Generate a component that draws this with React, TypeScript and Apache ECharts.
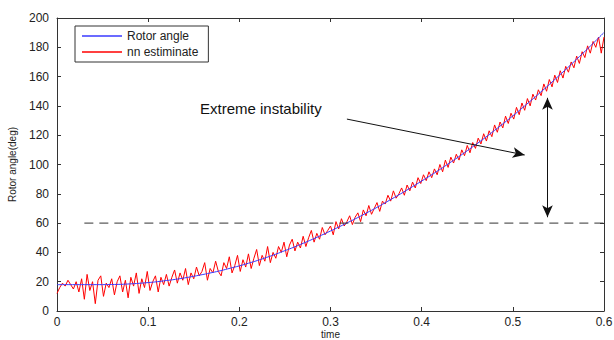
import React, { useEffect, useRef } from "react";
import * as echarts from "echarts";

// time grids
const blueTimes = [
  0, 0.01, 0.02, 0.03, 0.04, 0.05, 0.06, 0.07, 0.08, 0.09,
  0.1, 0.11, 0.12, 0.13, 0.14, 0.15, 0.16, 0.17, 0.18, 0.19,
  0.2, 0.21, 0.22, 0.23, 0.24, 0.25, 0.26, 0.27, 0.28, 0.29,
  0.3, 0.31, 0.32, 0.33, 0.34, 0.35, 0.36, 0.37, 0.38, 0.39,
  0.4, 0.41, 0.42, 0.43, 0.44, 0.45, 0.46, 0.47, 0.48, 0.49,
  0.5, 0.51, 0.52, 0.53, 0.54, 0.55, 0.56, 0.57, 0.58, 0.59, 0.6,
];
const rotorAngle = [
  18, 18, 18, 18, 18, 18, 18.1, 18.2, 18.5, 18.9,
  19.4, 20.0, 20.8, 21.6, 22.6, 23.7, 24.9, 26.2, 27.6, 29.2,
  30.8, 32.6, 34.5, 36.6, 38.8, 41.2, 43.6, 46.2, 48.9, 51.7,
  54.6, 57.6, 60.7, 63.8, 67.1, 70.4, 73.9, 77.5, 81.1, 84.9,
  88.7, 92.6, 96.6, 100.8, 105.0, 109.4, 113.9, 118.5, 123.3, 128.2,
  133.2, 138.4, 143.7, 149.1, 154.6, 160.3, 166.0, 171.9, 177.8, 183.9, 190.1,
];
const nnStep = 0.003;
const nnEstimate = [
  12, 16, 19, 17, 21, 18, 15, 20, 13, 22,
  8, 25, 14, 20, 5, 21, 24, 10, 19, 16,
  22, 11, 20, 24, 13, 21, 9, 23, 17, 26,
  12, 22, 16, 27, 14, 20, 24, 13, 23, 18,
  25, 17, 23, 28, 19, 26, 21, 29, 18, 26,
  22, 30, 24, 27, 33, 21, 29, 26, 34, 27,
  24, 33, 29, 37, 26, 31, 38, 27, 35, 30,
  39, 29, 36, 42, 31, 38, 34, 44, 33, 40,
  36, 44, 40, 47, 37, 45, 49, 41, 47, 43,
  51, 44, 50, 55, 47, 53, 49, 57, 52, 55,
  58, 52, 61, 56, 63, 58, 61, 65, 59, 64,
  67, 61, 69, 65, 72, 66, 70, 74, 68, 75,
  73, 79, 75, 82, 77, 80, 84, 79, 86, 82,
  88, 84, 91, 87, 93, 89, 95, 91, 97, 93,
  100, 95, 103, 98, 105, 101, 107, 103, 110, 106,
  113, 108, 115, 111, 118, 114, 121, 116, 123, 119,
  127, 122, 129, 125, 133, 128, 135, 131, 139, 134,
  142, 137, 145, 140, 148, 144, 151, 147, 155, 150,
  158, 153, 161, 156, 164, 159, 167, 163, 170, 166,
  174, 169, 177, 173, 181, 176, 184, 180, 187, 176,
  187,
];
const thresholdLine = [
  [0.03, 60],
  [0.6, 60],
];
const instabilityArrow = [
  [0.318, 131],
  [0.513, 106.5],
];
const spanArrow = [
  [0.538, 145.5],
  [0.538, 64],
];
const xTicks = [0, 0.1, 0.2, 0.3, 0.4, 0.5, 0.6];
const yTicks = [0, 20, 40, 60, 80, 100, 120, 140, 160, 180, 200];

const FONT = "Liberation Sans, Arial, sans-serif";

export default function App() {
  const ref = useRef<HTMLDivElement>(null);
  useEffect(() => {
    if (!ref.current) return;
    const chart = echarts.init(ref.current, null, { renderer: "svg" });
    const blueData = blueTimes.map((t, i) => [t, rotorAngle[i]]);
    const redData = nnEstimate.map((v, i) => [+(i * nnStep).toFixed(4), v]);
    const axisColor = "#333";
    const xBase = {
      type: "value" as const,
      min: xTicks[0],
      max: xTicks[xTicks.length - 1],
      interval: 0.1,
      axisLine: { show: true, onZero: false, lineStyle: { color: axisColor, width: 1 } },
      axisTick: { show: true, inside: true, length: 4, lineStyle: { color: axisColor } },
      splitLine: { show: false },
    };
    const yBase = {
      type: "value" as const,
      min: yTicks[0],
      max: yTicks[yTicks.length - 1],
      interval: 20,
      axisLine: { show: true, onZero: false, lineStyle: { color: axisColor, width: 1 } },
      axisTick: { show: true, inside: true, length: 4, lineStyle: { color: axisColor } },
      splitLine: { show: false },
    };
    chart.setOption({
      animation: false,
      backgroundColor: "#fff",
      textStyle: { fontFamily: FONT },
      grid: {
        left: 57,
        right: 10,
        top: 18,
        bottom: 29,
        containLabel: false,
        outerBoundsMode: "none",
      },
      legend: {
        data: [
          { name: "Rotor angle", icon: "rect" },
          { name: "nn estiminate", icon: "rect" },
        ],
        orient: "vertical",
        left: 75,
        top: 26,
        itemWidth: 40,
        itemHeight: 1.5,
        itemGap: 4,
        padding: [4, 10, 4, 7],
        borderColor: "#333",
        borderWidth: 1,
        backgroundColor: "#fff",
        textStyle: { fontFamily: FONT, fontSize: 12, color: "#222" },
      },
      xAxis: [
        {
          ...xBase,
          position: "bottom",
          name: "time",
          nameLocation: "middle",
          nameGap: 18,
          nameMoveOverlap: false,
          nameTextStyle: {
            fontFamily: FONT,
            fontSize: 10,
            color: "#222",
            lineHeight: 10,
            verticalAlign: "top",
          },
          axisLabel: {
            show: true,
            fontFamily: FONT,
            fontSize: 12,
            color: "#222",
            margin: 5,
            formatter: (v: number) => String(+v.toFixed(1)),
          },
        },
        { ...xBase, position: "top", axisLabel: { show: false } },
      ],
      yAxis: [
        {
          ...yBase,
          position: "left",
          name: "Rotor angle(deg)",
          nameLocation: "middle",
          nameGap: 40,
          nameTextStyle: { fontFamily: FONT, fontSize: 10, color: "#222" },
          axisLabel: { show: true, fontFamily: FONT, fontSize: 12, color: "#222", margin: 8 },
        },
        { ...yBase, position: "right", axisLabel: { show: false } },
      ],
      series: [
        {
          name: "nn estiminate",
          type: "line",
          data: redData,
          showSymbol: false,
          symbol: "none",
          lineStyle: { color: "#ff0000", width: 1 },
          itemStyle: { color: "#ff0000" },
          z: 2,
        },
        {
          name: "Rotor angle",
          type: "line",
          data: blueData,
          showSymbol: false,
          symbol: "none",
          smooth: true,
          lineStyle: { color: "#3a3aff", width: 1 },
          itemStyle: { color: "#3a3aff" },
          z: 3,
        },
        {
          name: "threshold",
          type: "line",
          data: thresholdLine,
          showSymbol: false,
          symbol: "none",
          lineStyle: { color: "#333", width: 1, type: [9, 6] },
          z: 4,
          silent: true,
          markLine: {
            silent: true,
            symbol: ["none", "arrow"],
            symbolSize: [8, 12],
            label: { show: false },
            lineStyle: { color: "#111", width: 1, type: "solid" },
            data: [
              [
                { coord: instabilityArrow[0], symbol: "none" },
                { coord: instabilityArrow[1], symbol: "arrow" },
              ],
              [
                { coord: spanArrow[0], symbol: "arrow" },
                { coord: spanArrow[1], symbol: "arrow" },
              ],
            ],
          },
        },
      ],
      graphic: [
        {
          type: "text",
          left: 200,
          top: 101,
          style: {
            text: "Extreme instability",
            fontFamily: FONT,
            fontSize: 15,
            fill: "#111",
          },
        },
      ],
    });
    return () => chart.dispose();
  }, []);
  return (
    <div
      ref={ref}
      style={{ position: "fixed", left: 0, top: 0, width: 614, height: 340 }}
    />
  );
}
